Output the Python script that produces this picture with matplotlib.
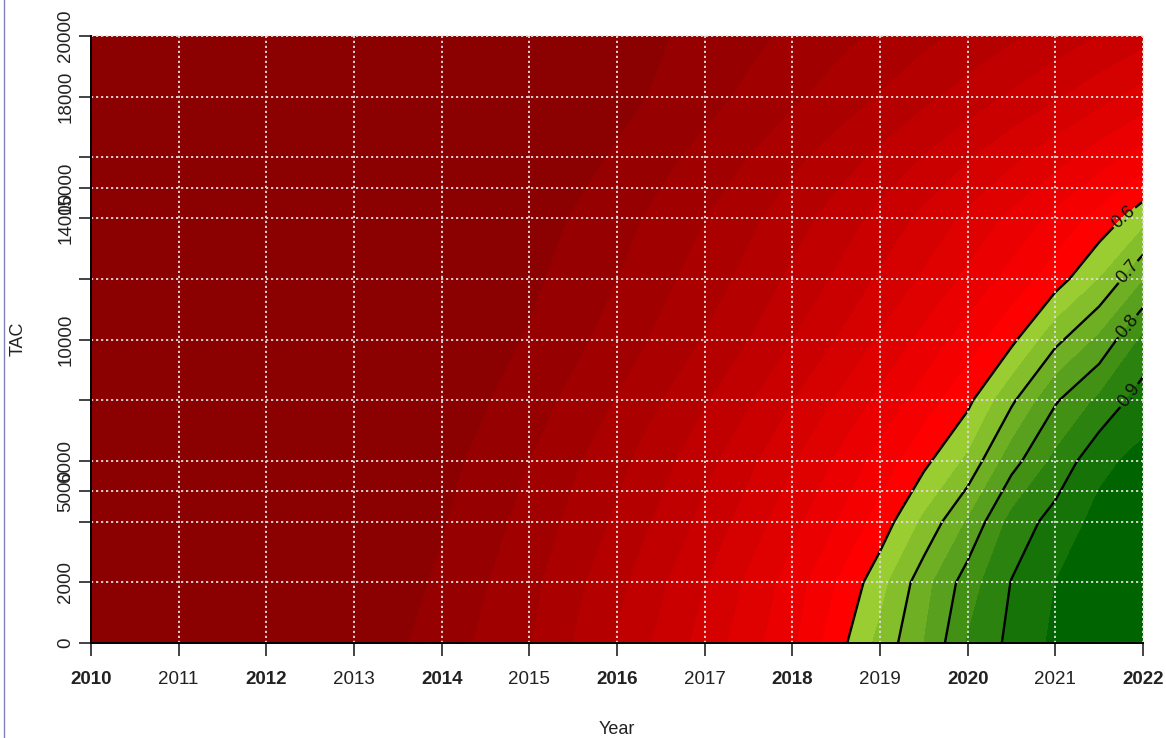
import matplotlib
matplotlib.use("Agg")

import matplotlib.pyplot as plt
import numpy as np
from matplotlib.colors import to_rgb
from matplotlib.lines import Line2D

plt.rcParams["font.family"] = ["Liberation Sans", "DejaVu Sans"]
plt.rcParams["lines.scale_dashes"] = False

# grid of the probability surface
YEARS = [2010, 2011, 2012, 2013, 2014, 2015, 2016, 2017, 2017.5, 2018,
         2018.5, 2019, 2019.5, 2020, 2020.5, 2021, 2021.5, 2022]
TAC = [0, 2000, 4000, 6000, 8000, 10000, 12000, 14000, 16000, 18000, 20000]

p_tac0 = [0, 0, 0, 0.010, 0.074, 0.146, 0.255, 0.369, 0.428, 0.490, 0.578, 0.665, 0.75, 0.854, 0.913, 0.96, 0.98, 0.99]
p_tac2000 = [0, 0, 0, 0.004, 0.058, 0.135, 0.235, 0.347, 0.408, 0.472, 0.550, 0.63, 0.73, 0.825, 0.902, 0.95, 0.975, 0.985]
p_tac4000 = [0, 0, 0, 0, 0.045, 0.117, 0.208, 0.314, 0.372, 0.433, 0.498, 0.571, 0.66, 0.755, 0.867, 0.92, 0.965, 0.98]
p_tac6000 = [0, 0, 0, 0, 0.032, 0.099, 0.184, 0.282, 0.337, 0.394, 0.455, 0.519, 0.587, 0.66, 0.78, 0.863, 0.937, 0.965]
p_tac8000 = [0, 0, 0, 0, 0.018, 0.075, 0.152, 0.244, 0.294, 0.348, 0.404, 0.463, 0.524, 0.587, 0.69, 0.794, 0.86, 0.925]
p_tac10000 = [0, 0, 0, 0, 0.008, 0.054, 0.120, 0.203, 0.249, 0.299, 0.351, 0.406, 0.464, 0.524, 0.587, 0.685, 0.76, 0.86]
p_tac12000 = [0, 0, 0, 0, 0.001, 0.039, 0.099, 0.173, 0.215, 0.260, 0.307, 0.357, 0.408, 0.462, 0.518, 0.576, 0.65, 0.746]
p_tac14000 = [0, 0, 0, 0, 0, 0.026, 0.080, 0.148, 0.187, 0.227, 0.270, 0.315, 0.362, 0.411, 0.461, 0.513, 0.567, 0.63]
p_tac16000 = [0, 0, 0, 0, 0, 0.008, 0.056, 0.116, 0.150, 0.186, 0.223, 0.262, 0.302, 0.344, 0.387, 0.430, 0.475, 0.521]
p_tac18000 = [0, 0, 0, 0, 0, 0, 0.033, 0.082, 0.110, 0.140, 0.170, 0.203, 0.237, 0.271, 0.307, 0.343, 0.381, 0.420]
p_tac20000 = [0, 0, 0, 0, 0, 0, 0.026, 0.065, 0.087, 0.110, 0.134, 0.159, 0.186, 0.213, 0.241, 0.270, 0.300, 0.330]

CONTOUR_LEVELS = [0.6, 0.7, 0.8, 0.9]
X_TICKS = list(range(2010, 2023))
Y_TICKS = [0, 2000, 4000, 5000, 6000, 8000, 10000, 12000, 14000, 15000, 16000, 18000, 20000]
Y_LABELS = ["0", "2000", "", "5000", "6000", "", "10000", "", "14000", "15000", "", "18000", "20000"]


def ramp(c1, c2, n):
    a, b = np.array(to_rgb(c1)), np.array(to_rgb(c2))
    return [tuple(a + (b - a) * t) for t in np.linspace(0, 1, n)]


prob = np.array([p_tac0, p_tac2000, p_tac4000, p_tac6000, p_tac8000, p_tac10000,
                 p_tac12000, p_tac14000, p_tac16000, p_tac18000, p_tac20000])

fig = plt.figure(figsize=(11.66, 7.38), dpi=100)
ax = fig.add_axes([91 / 1166, 1 - 643 / 738, (1143 - 91) / 1166, (643 - 36) / 738])

# 0.05 wide bands: 12 reds below 0.6, 8 greens above
levels = np.linspace(0, 1, 21)
colors = ramp("#8B0000", "#FF0000", 12) + ramp("#9ACD32", "#006400", 8)

ax.contourf(YEARS, TAC, prob, levels=levels, colors=colors, antialiased=False)
cs = ax.contour(YEARS, TAC, prob, levels=CONTOUR_LEVELS, colors="black", linewidths=1.7)
labels = ax.clabel(cs, fmt="%.1f", fontsize=13, inline=True, inline_spacing=2,
                   manual=[(2021.82, 13900), (2021.82, 12250), (2021.82, 10450), (2021.82, 8200)])
for t in labels:
    t.set_zorder(8)
    t.set_color("#111111")

ax.set_xlim(2010, 2022)
ax.set_ylim(0, 20000)

# dotted grid on top of the surface
for x in X_TICKS:
    ax.axvline(x, color="#DDDDDD", lw=1.3, ls=(0, (1.6, 2.0)), zorder=6, clip_on=False)
for y in Y_TICKS:
    ax.axhline(y, color="#DDDDDD", lw=1.3, ls=(0, (1.6, 2.0)), zorder=6, clip_on=False)

ax.spines[["top", "right"]].set_visible(False)
for s in ["left", "bottom"]:
    ax.spines[s].set_linewidth(1.4)
    ax.spines[s].set_zorder(7)

ax.set_xticks(X_TICKS)
ax.set_xticklabels([str(y) for y in X_TICKS])
for lab, yr in zip(ax.get_xticklabels(), X_TICKS):
    if yr % 2 == 0:
        lab.set_fontweight("bold")
ax.set_yticks(Y_TICKS)
ax.set_yticklabels(Y_LABELS)
ax.tick_params(axis="x", direction="out", length=9, width=1.2, pad=11, labelsize=13.5, colors="#222222")
ax.tick_params(axis="y", direction="out", length=9, width=1.2, pad=3, labelsize=13.5,
               labelrotation=90, colors="#222222")
for lab in ax.get_yticklabels():
    lab.set_va("center")

fig.text(18 / 1166, 1 - 339 / 738, "TAC", rotation=90, ha="center", va="center",
         fontsize=13, color="#222222")
fig.text(617 / 1166, 1 - 729 / 738, "Year", ha="center", va="center",
         fontsize=13, color="#222222")

# thin window border on the left of the screenshot
fig.add_artist(Line2D([3.5 / 1166, 3.5 / 1166], [0, 1], color="#8080C0", lw=1))

fig.savefig("out.png", dpi=100, facecolor="white")
plt.close(fig)
